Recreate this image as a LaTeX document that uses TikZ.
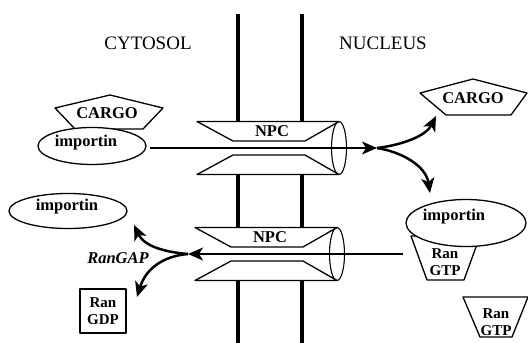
\documentclass[tikz,border=0pt]{standalone}
\usepackage{fontspec}
\setmainfont{Liberation Serif}
\usetikzlibrary{arrows.meta}

\begin{document}
\begin{tikzpicture}[x=1pt,y=-1pt]
\useasboundingbox (0,0) rectangle (528,343);
\begin{scope}[>={Stealth[length=15pt,width=13pt,inset=4pt]}, line join=round,
  membrane/.style={line width=3.2pt},
  outline/.style={draw, line width=1.3pt, fill=white},
  flow/.style={->, line width=1.6pt},
  branch/.style={->, line width=2.5pt},
  lbl/.style={font=\fontsize{16.5}{18}\selectfont\bfseries, inner sep=0pt},
  small/.style={font=\fontsize{15}{17}\selectfont\bfseries, inner sep=0pt, align=center},
  region/.style={font=\fontsize{19}{20}\selectfont, inner sep=0pt}]

\node[region] (cyto) at (148,43) {CYTOSOL};
\node[region] (nucl) at (383,43) {NUCLEUS};

\draw[membrane] (238,14) -- (238,343) (302,14) -- (302,343);

\foreach \cx/\cy/\nm in {339/148/in, 337/254/out} {
  \path[fill=white] (\cx-142,\cy-26.5) rectangle (\cx,\cy+26.5);
  \draw[line width=1.3pt] (\cx-142,\cy-26.5) -- (\cx,\cy-26.5) -- (\cx-34,\cy-7)
    -- (\cx-106,\cy-7) -- cycle;
  \draw[line width=1.3pt] (\cx-142,\cy+26.5) -- (\cx,\cy+26.5) -- (\cx-34,\cy+7)
    -- (\cx-106,\cy+7) -- cycle;
  \draw[line width=1.1pt] (\cx,\cy) ellipse [x radius=7.5, y radius=26.5];
  \node[lbl] (npc\nm) at (\cx-67,\cy-16.5) {NPC};
}

\draw[outline] (110,95) -- (163,108) -- (143,129) -- (75,129) -- (55,108) -- cycle;
\draw[outline] (92,146) ellipse [x radius=54, y radius=18.5];
\node[lbl] (cargoA) at (107,113) {CARGO};
\node[lbl] (impA) at (86,143) {importin};

\draw[outline] (473,79) -- (527,93) -- (511,115) -- (446,115) -- (420,93) -- cycle;
\node[lbl] (cargoB) at (473,98) {CARGO};

\draw[outline] (411,236) -- (480,236) -- (464,280) -- (427,280) -- cycle;
\draw[outline] (466,223) ellipse [x radius=60, y radius=23.5];
\node[lbl] (impB) at (454,217) {importin};
\node[small] (ranB) at (445,262) {Ran\\GTP};

\draw[outline] (463,297) -- (528,297) -- (512,337) -- (480,337) -- cycle;
\node[small] (ranC) at (496,322) {Ran\\GTP};

\draw[outline] (68,211) ellipse [x radius=59, y radius=17.5];
\node[lbl] (impC) at (67,207) {importin};

\node[small, draw, line width=1.1pt, minimum width=46pt, minimum height=44pt] (ranD)
  at (103,311) {Ran\\GDP};

\node[lbl, font=\fontsize{16.5}{18}\selectfont\bfseries\itshape] (gap) at (118,258) {RanGAP};

\coordinate (startA) at (150,148);
\coordinate (forkA) at (377,148);
\coordinate (startB) at (403,254);
\coordinate (forkB) at (188,254);
\coordinate (toCargo) at (436,116);
\coordinate (toImp) at (430,193);
\coordinate (toImpC) at (134,225);
\coordinate (toRan) at (137,297);

\draw[flow] (startA) -- (forkA);
\draw[flow] (startB) -- (forkB);

\draw[branch] (forkA) .. controls (402,145) and (426,136) .. (toCargo);
\draw[branch] (forkA) .. controls (402,152) and (426,166) .. (toImp);
\draw[branch] (forkB) .. controls (164,252) and (144,246) .. (toImpC);
\draw[branch] (forkB) .. controls (164,256) and (146,268) .. (toRan);

\end{scope}
\end{tikzpicture}
\end{document}
